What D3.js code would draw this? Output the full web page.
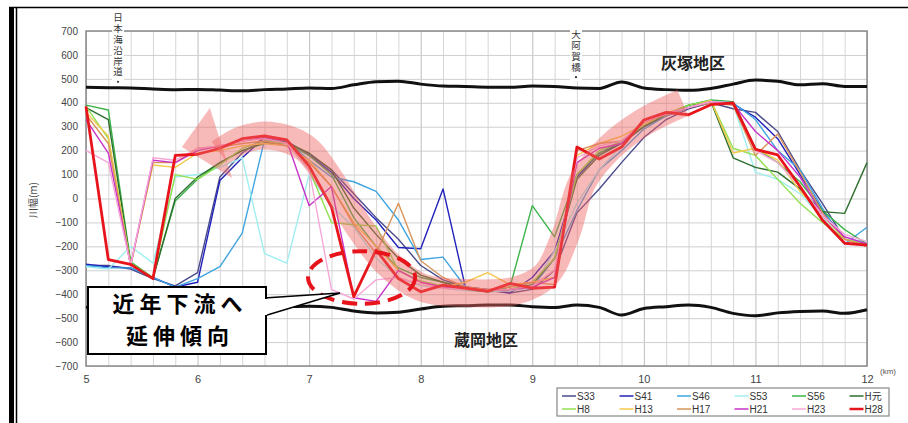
<!DOCTYPE html>
<html lang="ja">
<head>
<meta charset="UTF-8" />
<title>川幅の経年変化</title>
<style>
  body { margin: 0; background: #fff; }
  svg text { font-family: "Liberation Sans", Arial, sans-serif; }
  .jp { font-family: "Noto Sans CJK JP", sans-serif; }
</style>
</head>
<body>
<script src="https://cdn.jsdelivr.net/npm/d3@7"></script>
<div id="app"></div>
<script>
// data
const km = [5.0, 5.2, 5.4, 5.6, 5.8, 6.0, 6.2, 6.4, 6.6, 6.8, 7.0, 7.2, 7.4, 7.6, 7.8, 8.0, 8.2, 8.4,
            8.6, 8.8, 9.0, 9.2, 9.4, 9.6, 9.8, 10.0, 10.2, 10.4, 10.6, 10.8, 11.0, 11.2, 11.4, 11.6, 11.8, 12.0];
const xTicks = [5, 6, 7, 8, 9, 10, 11, 12];
const yTicks = [700, 600, 500, 400, 300, 200, 100, 0, -100, -200, -300, -400, -500, -600, -700];

const seriesNames = ["S33", "S41", "S46", "S53", "S56", "H元", "H8", "H13", "H17", "H21", "H23", "H28"];
const seriesColors = ["#4a4a8c", "#2222bb", "#3fa4e0", "#a0eef0", "#3cb44b", "#2d6e2d",
                      "#90e050", "#f2c94c", "#d9955a", "#c832c8", "#f7a8d8", "#e8141c"];

const S33 = [-280, -280, -295, -335, -365, -310, 90, 190, 255, 235, 185, 120, 20, -80, -170, -280, -340, -370,
             -385, -395, -380, -300, -60, 40, 150, 255, 330, 375, 400, 375, 360, 280, 120, -20, -170, -195];
const S41 = [-275, -285, -290, -330, -370, -350, 75, 170, 255, 240, 180, 110, 0, -90, -205, -210, 40, -370,
             -380, -395, -330, -220, 90, 190, 230, 300, 345, 380, 405, 395, 340, 250, 100, -50, -170, -200];
const S46 = [-280, -290, -290, -330, -370, -335, -285, -145, 245, 240, 160, 90, 70, 30, -90, -255, -245, -370,
             -390, -385, -370, -250, -50, 120, 200, 290, 345, 380, 410, 400, 330, 200, 120, -40, -190, -120];
const S53 = [-285, -295, -200, -270, 90, 100, 130, 170, -230, -270, 100, -30, -120, -250, -330, -365, -375, -385,
             -390, -385, -370, -220, -20, 120, 220, 310, 350, 380, 410, 395, 110, 80, 20, -80, -170, -180];
const S56 = [390, 370, -265, -330, -10, 80, 150, 200, 230, 230, 180, 100, -80, -200, -290, -330, -350, -380,
             -390, -370, -30, -160, 100, 190, 240, 300, 350, 390, 412, 405, 210, 150, 70, -50, -130, -190];
const H1 = [380, 330, -270, -335, 0, 90, 150, 200, 232, 235, 190, 120, -40, -150, -250, -320, -350, -370,
            -385, -380, -360, -250, 80, 180, 230, 300, 350, 390, 405, 170, 130, 110, 40, -55, -62, 150];
const H8 = [385, 250, -270, -330, 100, 80, 140, 210, 240, 230, 120, -100, -110, -115, -300, -345, -365, -375,
            -385, -380, -350, -250, 100, 200, 240, 310, 355, 390, 410, 210, 180, 80, -20, -100, -170, -190];
const H13 = [360, 260, -280, 140, 130, 190, 200, 220, 230, 220, 160, 50, -100, -200, -300, -350, -370, -350,
             -310, -360, -350, -330, 180, 230, 260, 310, 360, 380, 410, 190, 210, 160, 30, -70, -170, -200];
const H17 = [350, 230, -280, 150, 150, 210, 215, 230, 240, 220, 150, 50, -110, -230, -20, -260, -330, -370,
             -380, -370, -350, -360, 200, 230, 240, 320, 350, 380, 400, 390, 180, 270, 110, -60, -170, -200];
const H21 = [330, 190, -280, 160, 150, 200, 220, 240, 255, 240, -30, 50, -415, -430, -300, -350, -370, -375,
             -385, -380, -370, -330, 150, 210, 230, 320, 355, 380, 405, 395, 280, 200, 90, -70, -160, -190];
const H23 = [200, 150, -280, 170, 160, 210, 220, 240, 250, 230, 120, -380, -420, -340, -330, -360, -375, -380,
             -385, -380, -365, -300, 170, 220, 240, 320, 355, 380, 405, 400, 200, 150, 50, -70, -150, -180];
const H28 = [385, -255, -275, -335, 180, 185, 210, 250, 262, 245, 135, -35, -410, -215, -335, -390, -362, -375,
             -388, -355, -375, -370, 215, 165, 215, 328, 360, 350, 392, 400, 205, 182, 50, -90, -187, -195];

// 堤防（灰塚地区・蔵岡地区）
const haizuka = [465, 463, 462, 458, 455, 456, 453, 450, 455, 458, 462, 460, 475, 488, 490, 478, 470, 468,
                 465, 465, 470, 468, 462, 460, 487, 462, 455, 452, 460, 478, 495, 490, 475, 480, 468, 468];
const kuraoka = [-455, -452, -450, -450, -452, -455, -455, -452, -455, -452, -450, -455, -470, -478, -475, -462, -450, -448,
                 -445, -445, -452, -455, -445, -455, -487, -460, -452, -445, -455, -480, -490, -478, -472, -470, -480, -465];

// 傾向を示す矢印の中心線
const trendPath = [[10.35, 400], [10.0, 320], [9.7, 215], [9.45, 70], [9.3, -150], [9.12, -320], [8.85, -385],
                   [8.4, -395], [8.0, -370], [7.7, -270], [7.45, -120], [7.2, 70], [6.95, 215], [6.65, 262],
                   [6.4, 245], [6.2, 190]];
const trendHead = [[6.11, 378], [5.86, 215], [6.31, 86]];

const allSeries = [S33, S41, S46, S53, S56, H1, H8, H13, H17, H21, H23, H28];

// canvas
const W = 908, H = 423;
const svg = d3.select("#app").append("svg").attr("width", W).attr("height", H);

// outer frame
svg.append("rect").attr("x", 9).attr("y", 7).attr("width", 5).attr("height", H - 7).attr("fill", "#000");
svg.append("line").attr("x1", 16.5).attr("x2", 16.5).attr("y1", 7).attr("y2", H).attr("stroke", "#000").attr("stroke-width", 1.5);
svg.append("line").attr("x1", 9).attr("x2", W).attr("y1", 7.5).attr("y2", 7.5).attr("stroke", "#000").attr("stroke-width", 1.5);

const x = d3.scaleLinear().domain([5, 12]).range([86, 867]);
const y = d3.scaleLinear().domain([-700, 700]).range([366, 31]);

// grid
svg.append("g")
  .call(d3.axisBottom(x).tickValues(km).tickSize(0).tickFormat(""))
  .call(g => g.select(".domain").remove())
  .call(g => g.selectAll(".tick line").attr("y1", 31).attr("y2", 366)
      .attr("stroke", d => Number.isInteger(d) ? "#bdbdbd" : "#d6d6d6").attr("stroke-width", 1));
svg.append("g")
  .call(d3.axisLeft(y).tickValues(yTicks).tickSize(0).tickFormat(""))
  .call(g => g.select(".domain").remove())
  .call(g => g.selectAll(".tick line").attr("x1", 86).attr("x2", 867)
      .attr("stroke", "#cfcfcf").attr("stroke-width", 1));

// axes labels
svg.append("g")
  .attr("transform", "translate(86,0)")
  .call(d3.axisLeft(y).tickValues(yTicks).tickSize(0).tickPadding(8))
  .call(g => g.select(".domain").remove())
  .call(g => g.selectAll("text").attr("font-size", 10).attr("fill", "#444")
      .attr("font-family", "Liberation Sans, Arial, sans-serif"));
svg.append("g")
  .attr("transform", "translate(0,366)")
  .call(d3.axisBottom(x).tickValues(xTicks).tickSize(0).tickPadding(9).tickFormat(d3.format("d")))
  .call(g => g.select(".domain").remove())
  .call(g => g.selectAll("text").attr("font-size", 11).attr("fill", "#444")
      .attr("font-family", "Liberation Sans, Arial, sans-serif"));
svg.append("text").attr("x", 880).attr("y", 374).attr("font-size", 8).attr("fill", "#555").text("(km)");
svg.append("text").attr("class", "jp")
  .attr("transform", "translate(37,200) rotate(-90)")
  .attr("text-anchor", "middle").attr("font-size", 10).attr("fill", "#444").text("川幅(m)");

// plot frame
svg.append("rect").attr("x", 86).attr("y", 31).attr("width", 867 - 86).attr("height", 366 - 31)
  .attr("fill", "none").attr("stroke", "#8a8a8a").attr("stroke-width", 1.5);

const line = d3.line().x((d, i) => x(km[i])).y(d => y(d));

// levees
[haizuka, kuraoka].forEach(arr => {
  svg.append("path").attr("d", line.curve(d3.curveMonotoneX)(arr))
    .attr("fill", "none").attr("stroke", "#111").attr("stroke-width", 3);
});
line.curve(d3.curveLinear);

// series
svg.append("g").selectAll("path")
  .data(allSeries)
  .join("path")
  .attr("d", d => line(d))
  .attr("fill", "none")
  .attr("stroke", (d, i) => seriesColors[i])
  .attr("stroke-width", (d, i) => i === 11 ? 2.8 : 1.4)
  .attr("stroke-linejoin", "round");

// trend arrow
const band = d3.line().x(d => x(d[0])).y(d => y(d[1])).curve(d3.curveCatmullRom);
svg.append("path").attr("d", band(trendPath))
  .attr("fill", "none").attr("stroke", "rgb(240,100,100)").attr("stroke-opacity", 0.45)
  .attr("stroke-width", 28);
svg.append("polygon")
  .attr("points", trendHead.map(d => [x(d[0]), y(d[1])].join(",")).join(" "))
  .attr("fill", "rgb(240,100,100)").attr("fill-opacity", 0.45);

// dashed ellipse
svg.append("ellipse")
  .attr("cx", x(7.47)).attr("cy", y(-330)).attr("rx", x(7.95) - x(7.47)).attr("ry", y(-440) - y(-330))
  .attr("fill", "none").attr("stroke", "#e8141c").attr("stroke-width", 4).attr("stroke-dasharray", "15,8");

// callout
svg.append("polygon").attr("points", "264,298 340,293 264,316")
  .attr("fill", "#fff").attr("stroke", "#000").attr("stroke-width", 1.5);
svg.append("rect").attr("x", 88).attr("y", 287).attr("width", 178).attr("height", 67)
  .attr("fill", "#fff").attr("stroke", "#000").attr("stroke-width", 2);
svg.append("line").attr("x1", 266).attr("x2", 266).attr("y1", 299).attr("y2", 315).attr("stroke", "#fff").attr("stroke-width", 2);
const callout = svg.append("text").attr("class", "jp").attr("text-anchor", "middle")
  .attr("font-size", 22).attr("font-weight", 700).attr("letter-spacing", 5);
callout.append("tspan").attr("x", 180).attr("y", 312).text("近年下流へ");
callout.append("tspan").attr("x", 180).attr("y", 344).text("延伸傾向");

// district labels
svg.append("text").attr("class", "jp").attr("x", 693).attr("y", 69).attr("text-anchor", "middle")
  .attr("font-size", 16).attr("font-weight", 700).attr("fill", "#222").text("灰塚地区");
svg.append("text").attr("class", "jp").attr("x", 486).attr("y", 346).attr("text-anchor", "middle")
  .attr("font-size", 16).attr("font-weight", 700).attr("fill", "#222").text("蔵岡地区");

// vertical place labels
function vlabel(cx, top, str) {
  const n = str.length;
  svg.append("rect").attr("x", cx - 6).attr("y", top - 2).attr("width", 12).attr("height", n * 10.8 + 10)
    .attr("fill", "#fff");
  svg.append("text").attr("class", "jp").attr("x", cx).attr("y", top)
    .style("writing-mode", "vertical-rl").style("text-orientation", "upright")
    .attr("font-size", 9.5).attr("letter-spacing", 1.3).attr("fill", "#333").text(str);
  svg.append("circle").attr("cx", cx).attr("cy", top + n * 10.8 + 4).attr("r", 1.1).attr("fill", "#333");
}
vlabel(118, 13, "日本海沿岸道");
vlabel(576, 30, "大阿賀橋");

// legend
svg.append("rect").attr("x", 557).attr("y", 388).attr("width", 332).attr("height", 28)
  .attr("fill", "#fff").attr("stroke", "#888").attr("stroke-width", 1.2);
const leg = svg.append("g").selectAll("g")
  .data(seriesNames)
  .join("g")
  .attr("transform", (d, i) => `translate(${562 + (i % 6) * 57.5},${i < 6 ? 396 : 409})`);
leg.append("line").attr("x1", 0).attr("x2", 14).attr("y1", 0).attr("y2", 0)
  .attr("stroke", (d, i) => seriesColors[i]).attr("stroke-width", (d, i) => i === 11 ? 2.5 : 1.5);
leg.append("text").attr("x", 15).attr("y", 4).attr("font-size", 10).attr("fill", "#333")
  .attr("class", (d) => d === "H元" ? "jp" : null)
  .text(d => d);
</script>
</body>
</html>
